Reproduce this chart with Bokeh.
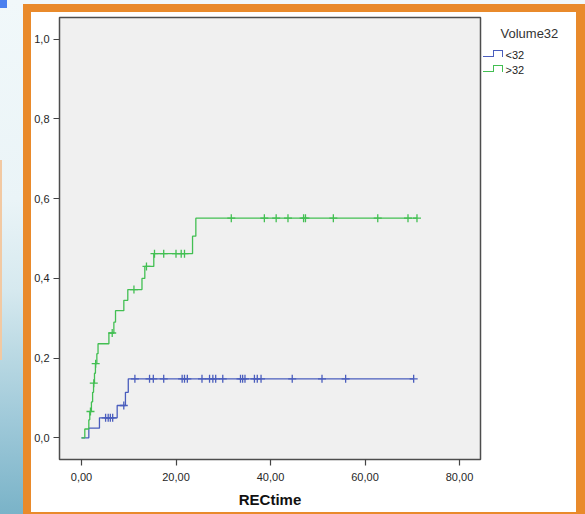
import numpy as np
from bokeh.plotting import figure
from bokeh.models import Range1d, FixedTicker, Label
from bokeh.embed import file_html
from bokeh.resources import INLINE

# ---------------- data ----------------
legend_title = "Volume32"
groups = ["<32", ">32"]
x_label = "RECtime"
x_ticks = [0, 20, 40, 60, 80]
x_tick_labels = ["0,00", "20,00", "40,00", "60,00", "80,00"]
y_ticks = [0.0, 0.2, 0.4, 0.6, 0.8, 1.0]
y_tick_labels = ["0,0", "0,2", "0,4", "0,6", "0,8", "1,0"]

# group "<32": event times and cumulative incidence after each event
lt32_times = [0.0, 1.55, 3.8, 7.55, 9.3, 9.9]
lt32_cum = [0.0, 0.024, 0.050, 0.081, 0.114, 0.148]
lt32_censor = [5.1, 5.65, 6.1, 6.6, 8.95, 11.3, 14.4, 15.2, 17.4, 21.3, 21.8,
               22.4, 25.5, 27.1, 27.8, 28.4, 29.9, 33.65, 34.1, 34.6, 36.6,
               37.2, 38.0, 44.6, 50.9, 55.9, 70.3]

# group ">32"
gt32_times = [0.0, 0.7, 1.55, 1.75, 2.1, 2.35, 2.55, 2.75, 2.95, 3.25, 3.5,
              5.8, 6.85, 7.2, 8.96, 9.8, 12.8, 13.4, 15.3, 23.5, 24.2]
gt32_cum = [0.0, 0.022, 0.045, 0.066, 0.090, 0.114, 0.137, 0.162, 0.186,
            0.211, 0.236, 0.263, 0.290, 0.319, 0.345, 0.372, 0.400, 0.430,
            0.462, 0.506, 0.551]
gt32_censor = [1.9, 2.6, 3.0, 6.5, 11.1, 13.75, 15.45, 17.4, 20.0, 21.1, 21.8,
               31.7, 38.7, 41.2, 43.7, 47.0, 47.4, 53.3, 62.7, 69.1, 71.0]

colors = ["#4a5dbd", "#42bf52"]

# ---------------- layout geometry (canvas pixels) ----------------
W, H = 585, 514
FL, FR, FT, FB = 59, 480, 17, 459          # frame edges
X0, X1 = -4.656, 84.444
Y0, Y1 = -0.0545, 1.0547


def dx(px):
    return X0 + (px - FL) * (X1 - X0) / (FR - FL)


def dy(py):
    return Y1 - (py - FT) * (Y1 - Y0) / (FB - FT)


p = figure(width=W, height=H, output_backend="svg", toolbar_location=None,
           x_range=Range1d(X0, X1), y_range=Range1d(Y0, Y1),
           min_border_left=FL, min_border_right=W - FR,
           min_border_top=FT, min_border_bottom=H - FB)
p.background_fill_color = "#f0f0f0"
p.border_fill_alpha = 0
p.outline_line_color = "#4d4d4d"
p.outline_line_width = 1.5
p.grid.visible = False

for ax in (p.xaxis[0], p.yaxis[0]):
    ax.axis_line_color = None
    ax.major_tick_line_color = "#444444"
    ax.major_tick_line_width = 1.2
    ax.major_tick_out = 6
    ax.major_tick_in = 0
    ax.minor_tick_line_color = None
    ax.major_label_text_font = "Liberation Sans"
    ax.major_label_text_font_size = "11px"
    ax.major_label_text_color = "#262626"

p.xaxis.ticker = FixedTicker(ticks=x_ticks)
p.xaxis.major_label_overrides = dict(zip(x_ticks, x_tick_labels))
p.yaxis.ticker = FixedTicker(ticks=y_ticks)
p.yaxis.major_label_overrides = dict(zip(y_ticks, y_tick_labels))
p.xaxis.major_label_standoff = 7
p.yaxis.major_label_standoff = 4
p.xaxis.axis_label = x_label
p.xaxis.axis_label_text_font = "Liberation Sans"
p.xaxis.axis_label_text_font_style = "bold"
p.xaxis.axis_label_text_font_size = "15px"
p.xaxis.axis_label_text_color = "#111111"
p.xaxis.axis_label_standoff = 7

# ---------------- curves ----------------
series = [(lt32_times, lt32_cum, lt32_censor), (gt32_times, gt32_cum, gt32_censor)]
for (t, c, cens), col in zip(series, colors):
    t = np.asarray(t, float)
    c = np.asarray(c, float)
    cens = np.asarray(cens, float)
    end = cens.max()
    xs = np.append(t, end)
    ys = np.append(c, c[-1])
    p.step(xs, ys, mode="after", line_color=col, line_width=1.3)
    cy = c[np.searchsorted(t, cens, side="right") - 1]
    p.scatter(cens, cy, marker="cross", size=8, line_color=col, line_width=1.3)

# ---------------- legend texts (side panel, not clipped) ----------------
p.add_layout(Label(x=dx(500), y=dy(33), text=legend_title, text_align="left",
                   text_baseline="middle", text_font="Liberation Sans",
                   text_font_size="13px", text_color="#333333"), "right")
for i, g in enumerate(groups):
    yc = 54.3 + 15 * i
    p.add_layout(Label(x=dx(505), y=dy(yc), text=g, text_align="left",
                       text_baseline="middle", text_font="Liberation Sans",
                       text_font_size="11px", text_color="#222222"), "right")

# ---------------- page decorations (CSS backgrounds behind the canvas) --------
def rect(x0, y0, x1, y1, color):
    return (f"linear-gradient({color},{color}) {x0}px {y0}px / "
            f"{x1 - x0}px {y1 - y0}px no-repeat")

orange = "#e98a2b"
layers = []
# legend icons (step symbols)
for i, col in enumerate(colors):
    lo = 56 + 15 * i
    hi = 50 + 15 * i
    layers += [rect(483, lo, 494, lo + 1, col), rect(493, hi, 494, lo + 1, col),
               rect(493, hi, 503, hi + 1, col), rect(502, hi, 503, lo + 1, col)]
layers += [rect(0, 0, 7, 8, "#4a80ef"),
           rect(0, 160, 2, 360, "#f2c9a2"),
           rect(23, 4, 31, 514, orange), rect(23, 4, 585, 12, orange),
           rect(576, 4, 585, 514, orange), rect(23, 512, 585, 514, orange),
           rect(31, 12, 576, 512, "#ffffff"),
           "linear-gradient(to bottom, #f1f8fa 0px, #eaf4f7 200px, #d6e9ef 290px, "
           "#bcdae4 350px, #9fc9d9 420px, #7ab3c8 514px)"]
p.styles = {"background": ", ".join(layers)}

open("out.html", "w").write(file_html(p, INLINE))
